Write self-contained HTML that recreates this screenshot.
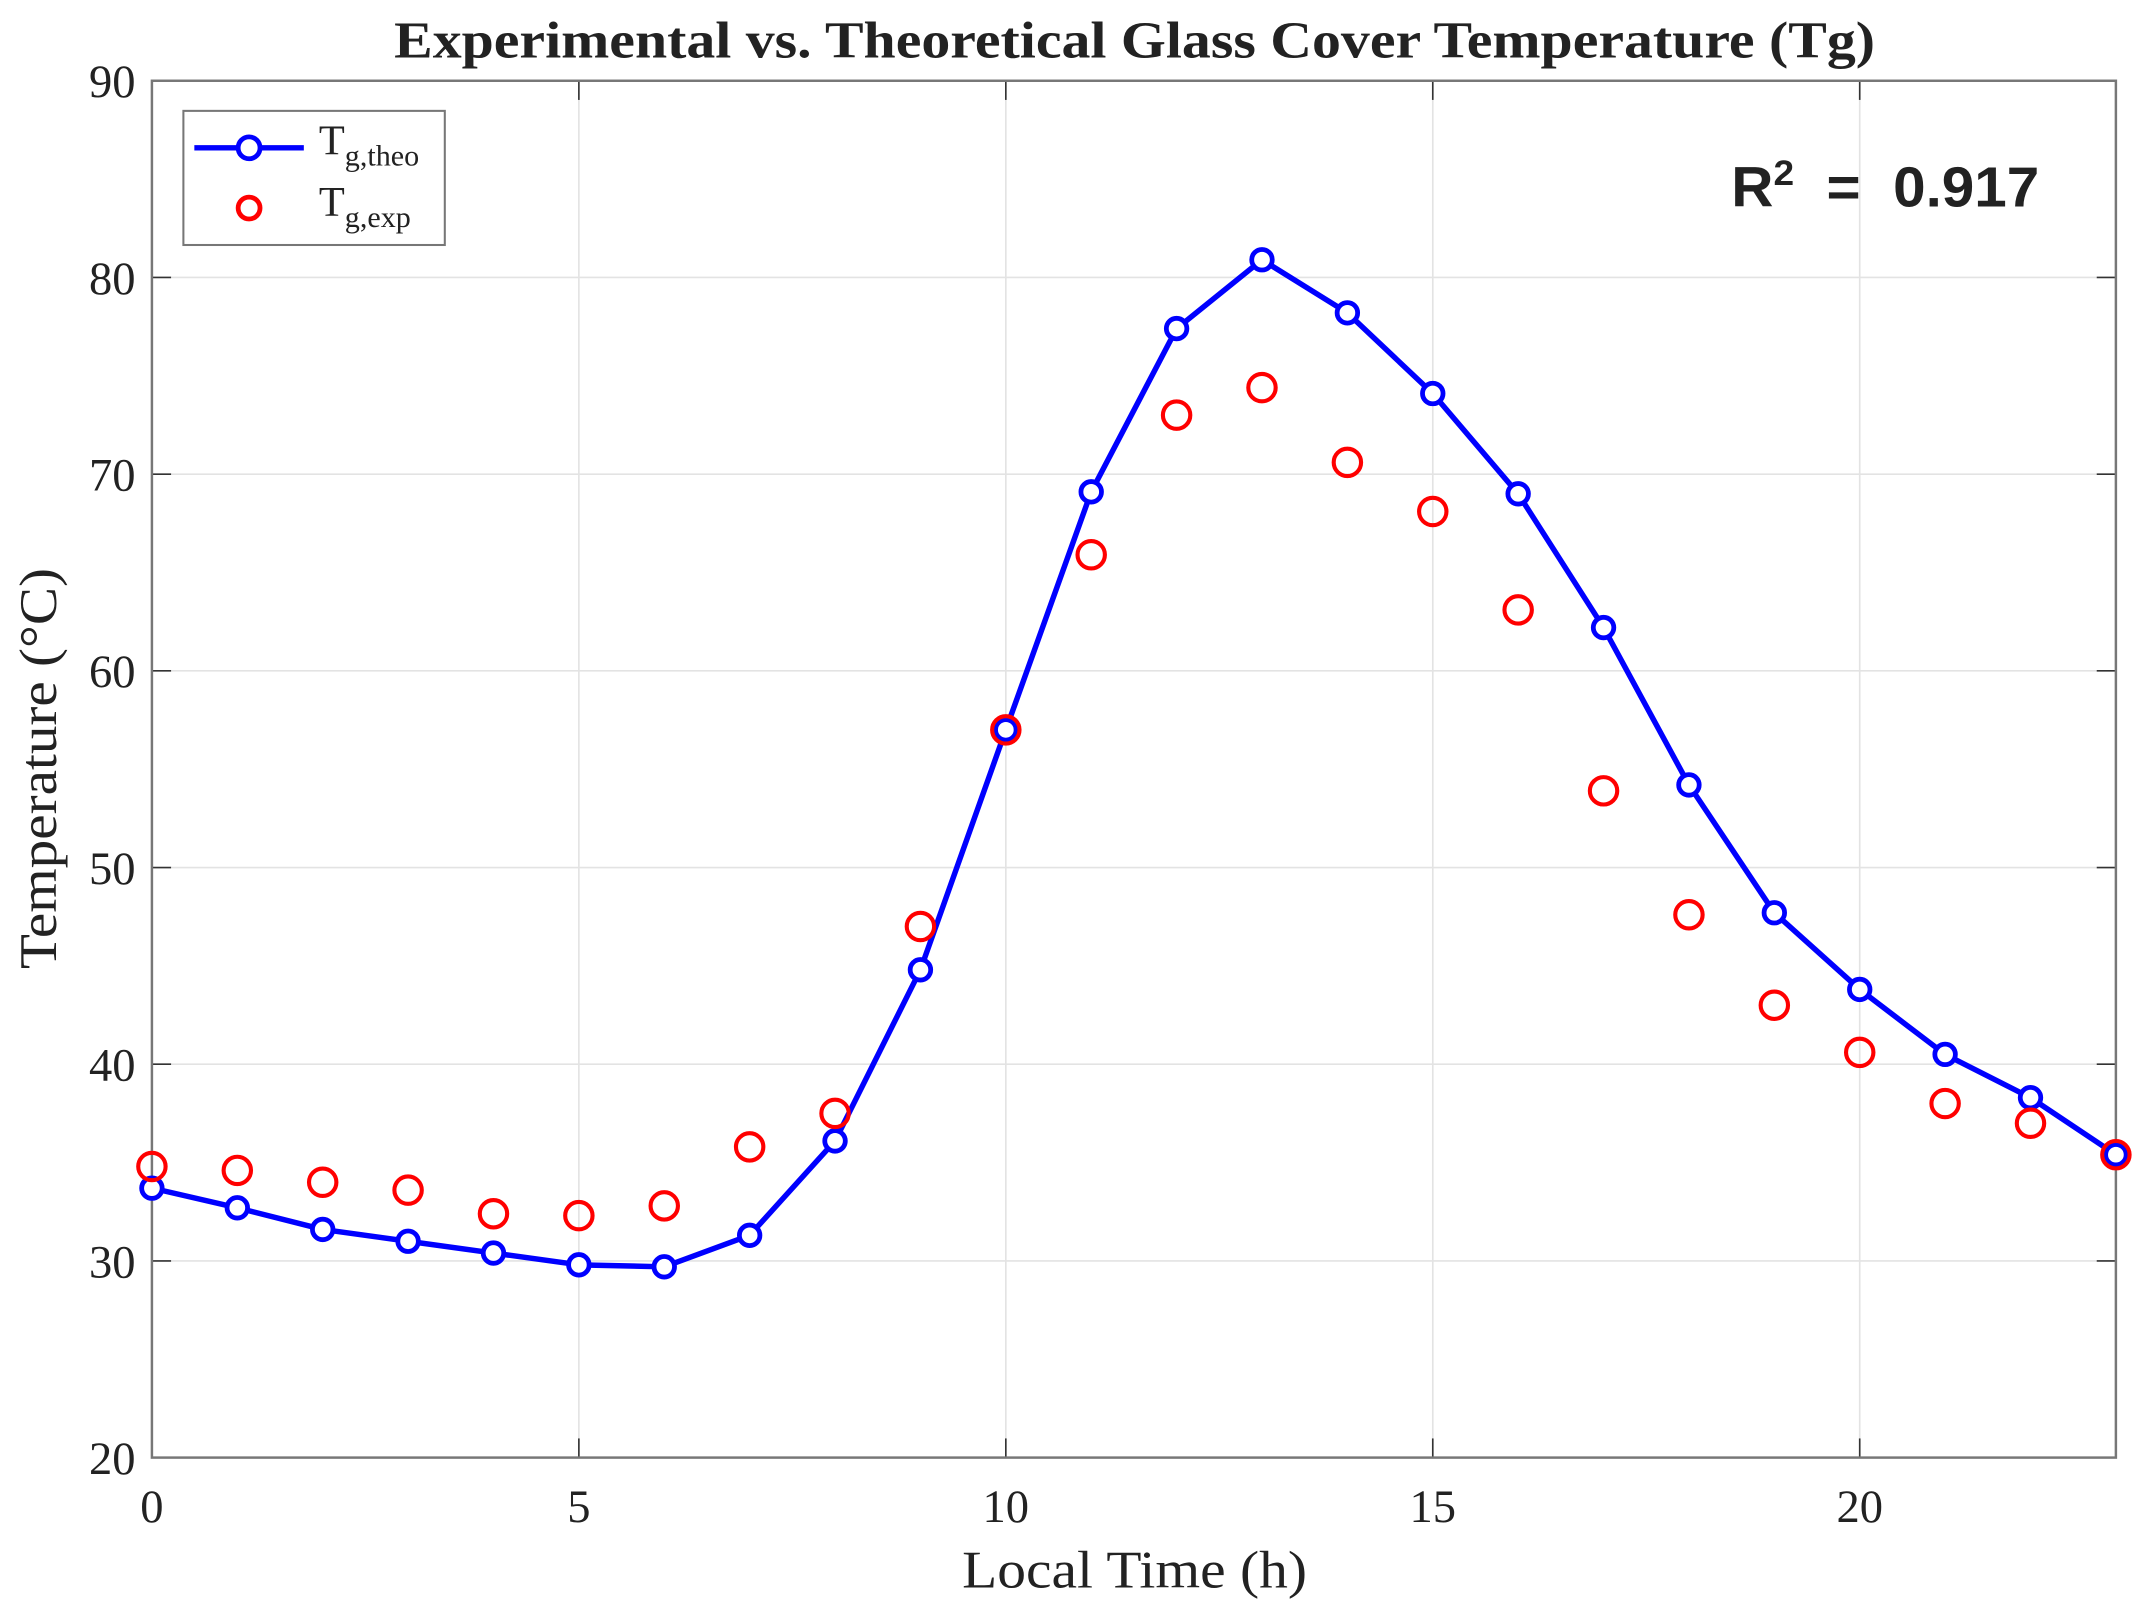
<!DOCTYPE html>
<html><head><meta charset="utf-8"><style>html,body{margin:0;padding:0;background:#fff}svg{display:block}</style></head>
<body>
<svg id="chart" width="2146" height="1615" viewBox="0 0 1568 1180" xmlns="http://www.w3.org/2000/svg">
<rect width="1568" height="1180" fill="#fff"/>
<g id="grid"></g>
<g id="axes"></g>
<g id="marks"></g>
<text x="288" y="42" textLength="1082" lengthAdjust="spacingAndGlyphs" font-family="Liberation Serif, serif" font-weight="bold" font-size="38" fill="#222">Experimental vs. Theoretical Glass Cover Temperature (Tg)</text>
<text x="703" y="1160" textLength="252" lengthAdjust="spacingAndGlyphs" font-family="Liberation Serif, serif" font-size="39" fill="#222">Local Time (h)</text>
<text transform="translate(41,708) rotate(-90)" textLength="293" lengthAdjust="spacingAndGlyphs" font-family="Liberation Serif, serif" font-size="39" fill="#222">Temperature (°C)</text>
<text x="1265" y="151" textLength="225" lengthAdjust="spacingAndGlyphs" font-family="Liberation Sans, sans-serif" font-weight="bold" font-size="41" fill="#222">R<tspan font-size="26" dy="-16">2</tspan><tspan dy="16" xml:space="preserve">  =  0.917</tspan></text>
<g>
<rect x="134" y="81" width="191" height="98" fill="#fff" stroke="#777" stroke-width="1.5"/>
<line x1="142" y1="108" x2="222" y2="108" stroke="#0000ff" stroke-width="4"/>
<circle cx="182" cy="108" r="8" fill="#fff" stroke="#0000ff" stroke-width="3.5"/>
<text x="233" y="113" font-family="Liberation Serif, serif" font-size="31" fill="#222">T<tspan font-size="22" dy="8">g,theo</tspan></text>
<circle cx="182" cy="152" r="8" fill="#fff" stroke="#ff0000" stroke-width="3.5"/>
<text x="233" y="158" font-family="Liberation Serif, serif" font-size="31" fill="#222">T<tspan font-size="22" dy="8">g,exp</tspan></text>
</g>
</svg>
<script>
const hours = [0,1,2,3,4,5,6,7,8,9,10,11,12,13,14,15,16,17,18,19,20,21,22,23];
const theoValues = [33.7,32.7,31.6,31.0,30.4,29.8,29.7,31.3,36.1,44.8,57.0,69.1,77.4,80.9,78.2,74.1,69.0,62.2,54.2,47.7,43.8,40.5,38.3,35.4];
const expValues = [34.8,34.6,34.0,33.6,32.4,32.3,32.8,35.8,37.5,47.0,57.0,65.9,73.0,74.4,70.6,68.1,63.1,53.9,47.6,43.0,40.6,38.0,37.0,35.4];
const xTicks = [0,5,10,15,20];
const yTicks = [20,30,40,50,60,70,80,90];
const NS = 'http://www.w3.org/2000/svg';
const L=111,R=1546,T=59,B=1065,xMin=0,xMax=23,yMin=20,yMax=90;
function xs(v){return L+(v-xMin)/(xMax-xMin)*(R-L);}
function ys(v){return B-(v-yMin)/(yMax-yMin)*(B-T);}
function mk(tag,attrs,parent){const e=document.createElementNS(NS,tag);for(const k in attrs)e.setAttribute(k,attrs[k]);parent.appendChild(e);return e;}
const grid=document.getElementById('grid'),axes=document.getElementById('axes'),marks=document.getElementById('marks');
xTicks.forEach(t=>{
  const g=mk('line',{x1:xs(t),x2:xs(t),y1:T,y2:B,stroke:'#e3e3e3','stroke-width':1.2},grid);
  
  
  mk('line',{x1:xs(t),x2:xs(t),y1:B,y2:B-14,stroke:'#333','stroke-width':1.2},axes);
  mk('line',{x1:xs(t),x2:xs(t),y1:T,y2:T+14,stroke:'#333','stroke-width':1.2},axes);
  const tx=mk('text',{x:xs(t),y:B+47,'text-anchor':'middle','font-family':'Liberation Serif, serif','font-size':34,fill:'#222'},axes);
  tx.textContent=t;
  
  
});
yTicks.forEach(t=>{
  const g=mk('line',{x1:L,x2:R,y1:ys(t),y2:ys(t),stroke:'#e3e3e3','stroke-width':1.2},grid);
  
  
  mk('line',{x1:L,x2:L+14,y1:ys(t),y2:ys(t),stroke:'#333','stroke-width':1.2},axes);
  mk('line',{x1:R,x2:R-14,y1:ys(t),y2:ys(t),stroke:'#333','stroke-width':1.2},axes);
  const tx=mk('text',{x:L-12,y:ys(t)+12,'text-anchor':'end','font-family':'Liberation Serif, serif','font-size':34,fill:'#222'},axes);
  tx.textContent=t;
  
  
});
const frame=mk('rect',{x:L,y:T,width:R-L,height:B-T,fill:'none',stroke:'#777','stroke-width':1.8},axes);


const line=mk('polyline',{points:hours.map((h,i)=>xs(h)+','+ys(theoValues[i])).join(' '),fill:'none',stroke:'#0000ff','stroke-width':4,'stroke-linejoin':'round'},marks);


hours.forEach((h,i)=>{
  const c=mk('circle',{cx:xs(h),cy:ys(theoValues[i]),r:7.5,fill:'#fff',stroke:'#0000ff','stroke-width':3.5},marks);
  
  
});
hours.forEach((h,i)=>{
  const c=mk('circle',{cx:xs(h),cy:ys(expValues[i]),r:10,fill:'none',stroke:'#ff0000','stroke-width':3},marks);
  
  
});
</script>
</body></html>
